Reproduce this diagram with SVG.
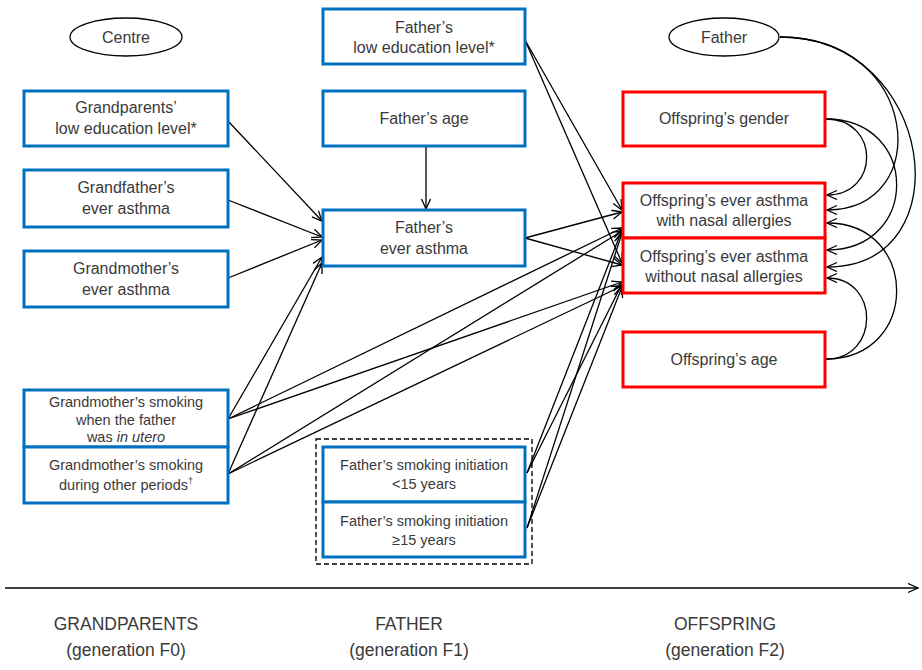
<svg xmlns="http://www.w3.org/2000/svg" width="922" height="670" viewBox="0 0 922 670">
<defs>
<marker id="ah" markerUnits="userSpaceOnUse" markerWidth="14" markerHeight="12" refX="11" refY="5" orient="auto">
<path d="M1,0.5 L11,5 L1,9.5" fill="none" stroke="#000" stroke-width="1.3"/>
</marker>
<style>
.b{fill:#fff;stroke:#0070C0;stroke-width:3}
.r{fill:#fff;stroke:#FF0000;stroke-width:3}
.e{fill:#fff;stroke:#000;stroke-width:1.3}
text{font-family:"Liberation Sans",Arial,sans-serif;fill:#3a3a3a;text-anchor:middle}
.t{font-size:16px}
.s{font-size:14.5px}
.g{font-size:17.5px}
.c line,.c path{stroke:#000;stroke-width:1.3;fill:none;marker-end:url(#ah)}
</style>
</defs>
<rect width="922" height="670" fill="#fff"/>

<g class="c" id="connectors">
<line x1="228" y1="121" x2="322" y2="221"/>
<line x1="228" y1="200" x2="322" y2="237"/>
<line x1="228" y1="278" x2="322" y2="240"/>
<line x1="228" y1="419" x2="322" y2="257"/>
<line x1="228" y1="474" x2="322" y2="263"/>
<line x1="426" y1="146" x2="426" y2="209"/>
<line x1="228" y1="419" x2="622" y2="228"/>
<line x1="228" y1="419" x2="622" y2="282"/>
<line x1="228" y1="474" x2="622" y2="231"/>
<line x1="228" y1="474" x2="622" y2="286"/>
<line x1="525" y1="238" x2="622" y2="212"/>
<line x1="525" y1="238" x2="622" y2="265"/>
<line x1="525" y1="40" x2="622" y2="210"/>
<line x1="525" y1="40" x2="622" y2="263"/>
<line x1="527" y1="473" x2="622" y2="230"/>
<line x1="527" y1="473" x2="622" y2="284"/>
<line x1="527" y1="528" x2="622" y2="233"/>
<line x1="527" y1="528" x2="622" y2="287"/>
<path d="M780,37 C920,37 935,210 827,210"/>
<path d="M780,37 C935,37 965,267 827,267"/>
<path d="M826,119 C880,119 880,195 827,195"/>
<path d="M826,119 C920,119 920,250 827,250"/>
<path d="M826,359 C880,359 880,278 827,278"/>
<path d="M826,359 C920,359 920,223 827,223"/>
<line x1="5" y1="588" x2="918" y2="588"/>
</g>

<g id="centre"><ellipse class="e" cx="126" cy="37" rx="56" ry="19"/><text class="t" x="126" y="43">Centre</text></g>
<g id="father"><ellipse class="e" cx="724" cy="37" rx="55" ry="19"/><text class="t" x="724" y="43">Father</text></g>

<g id="grandparents-edu"><rect class="b" x="24" y="91" width="204" height="55"/><text class="t" x="126" y="113">Grandparents’</text><text class="t" x="126" y="134">low education level*</text></g>
<g id="grandfather-asthma"><rect class="b" x="24" y="170" width="204" height="57"/><text class="t" x="126" y="193">Grandfather’s</text><text class="t" x="126" y="214">ever asthma</text></g>
<g id="grandmother-asthma"><rect class="b" x="24" y="251" width="204" height="56"/><text class="t" x="126" y="274">Grandmother’s</text><text class="t" x="126" y="295">ever asthma</text></g>
<g id="gm-smoking-utero"><rect class="b" x="24" y="390" width="204" height="57"/><text class="s" x="126" y="407">Grandmother’s smoking</text><text class="s" x="126" y="425">when the father</text><text class="s" x="126" y="442">was <tspan font-style="italic">in utero</tspan></text></g>
<g id="gm-smoking-other"><rect class="b" x="24" y="447" width="204" height="56"/><text class="s" x="126" y="470">Grandmother’s smoking</text><text class="s" x="126" y="490">during other periods<tspan font-size="9" dy="-6">†</tspan></text></g>

<g id="father-edu"><rect class="b" x="323" y="9" width="202" height="55"/><text class="t" x="424" y="33">Father’s</text><text class="t" x="424" y="53">low education level*</text></g>
<g id="father-age"><rect class="b" x="323" y="91" width="202" height="55"/><text class="t" x="424" y="124">Father’s age</text></g>
<g id="father-asthma"><rect class="b" x="323" y="210" width="202" height="56"/><text class="t" x="424" y="233">Father’s</text><text class="t" x="424" y="254">ever asthma</text></g>

<g id="smoking-group"><rect x="316" y="439" width="216" height="125" fill="none" stroke="#000" stroke-width="1.3" stroke-dasharray="5,3"/></g>
<g id="smoking-lt15"><rect class="b" x="323" y="447" width="202" height="55"/><text class="s" x="424" y="470">Father’s smoking initiation</text><text class="s" x="424" y="489">&lt;15 years</text></g>
<g id="smoking-ge15"><rect class="b" x="323" y="502" width="202" height="55"/><text class="s" x="424" y="526">Father’s smoking initiation</text><text class="s" x="424" y="545">≥15 years</text></g>

<g id="offspring-gender"><rect class="r" x="623" y="92" width="202" height="54"/><text class="t" x="724" y="124">Offspring’s gender</text></g>
<g id="offspring-with"><rect class="r" x="623" y="183" width="202" height="55"/><text class="t" x="724" y="206">Offspring’s ever asthma</text><text class="t" x="724" y="226">with nasal allergies</text></g>
<g id="offspring-without"><rect class="r" x="623" y="238" width="202" height="55"/><text class="t" x="724" y="262">Offspring’s ever asthma</text><text class="t" x="724" y="282">without nasal allergies</text></g>
<g id="offspring-age"><rect class="r" x="623" y="332" width="202" height="55"/><text class="t" x="724" y="365">Offspring’s age</text></g>

<g id="labels">
<text class="g" x="126" y="630">GRANDPARENTS</text><text class="g" x="126" y="656">(generation F0)</text>
<text class="g" x="409" y="630">FATHER</text><text class="g" x="409" y="656">(generation F1)</text>
<text class="g" x="725" y="630">OFFSPRING</text><text class="g" x="725" y="656">(generation F2)</text>
</g>
</svg>
